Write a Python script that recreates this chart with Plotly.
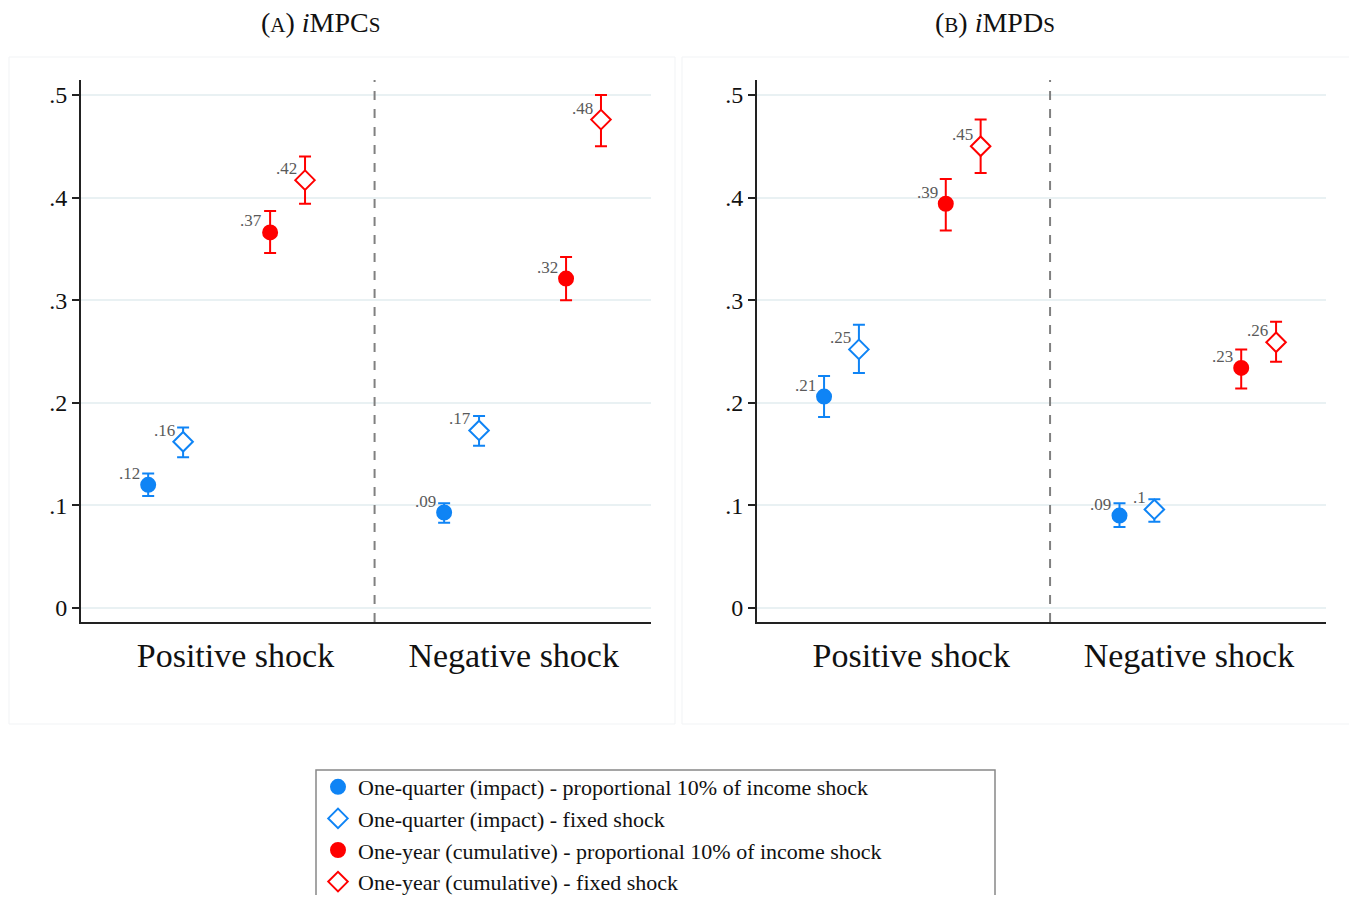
import plotly.graph_objects as go

# ---------------- data ----------------
categories = ["Positive shock", "Negative shock"]
series_names = [
    "One-quarter (impact) - proportional 10% of income shock",
    "One-quarter (impact) - fixed shock",
    "One-year (cumulative) - proportional 10% of income shock",
    "One-year (cumulative) - fixed shock",
]
y_ticks = [0, 0.1, 0.2, 0.3, 0.4, 0.5]
y_ticklabels = ["0", ".1", ".2", ".3", ".4", ".5"]

# Panel A: iMPCs  (values for [Positive, Negative])
mpc_q_prop = [0.120, 0.093]
mpc_q_prop_lo = [0.109, 0.083]
mpc_q_prop_hi = [0.131, 0.102]
mpc_q_fixed = [0.162, 0.173]
mpc_q_fixed_lo = [0.147, 0.158]
mpc_q_fixed_hi = [0.176, 0.187]
mpc_y_prop = [0.366, 0.321]
mpc_y_prop_lo = [0.346, 0.300]
mpc_y_prop_hi = [0.387, 0.342]
mpc_y_fixed = [0.417, 0.476]
mpc_y_fixed_lo = [0.394, 0.450]
mpc_y_fixed_hi = [0.440, 0.500]

# Panel B: iMPDs
mpd_q_prop = [0.206, 0.090]
mpd_q_prop_lo = [0.186, 0.079]
mpd_q_prop_hi = [0.226, 0.102]
mpd_q_fixed = [0.252, 0.096]
mpd_q_fixed_lo = [0.229, 0.084]
mpd_q_fixed_hi = [0.276, 0.106]
mpd_y_prop = [0.394, 0.234]
mpd_y_prop_lo = [0.368, 0.214]
mpd_y_prop_hi = [0.418, 0.252]
mpd_y_fixed = [0.450, 0.259]
mpd_y_fixed_lo = [0.424, 0.240]
mpd_y_fixed_hi = [0.476, 0.279]

# ---------------- style ----------------
BLUE = "#0f84f5"
RED = "#ff0000"
FONT = "Liberation Serif"
W, H = 1357, 903
OX, OY = 8, 8                      # page body margin
FW, FH = W - 2 * OX, H - 2 * OY    # figure size (fits the window exactly)


def px(x):
    return (x - OX) / FW


def py(y):
    return 1 - (y - OY) / FH


group_pos = [1, 2]
offsets = [-0.265, -0.147, 0.147, 0.265]
styles = [
    dict(color=BLUE, symbol="circle", fill=BLUE),
    dict(color=BLUE, symbol="diamond", fill="white"),
    dict(color=RED, symbol="circle", fill=RED),
    dict(color=RED, symbol="diamond", fill="white"),
]


def fmt(v):
    s = f"{v:.2f}".rstrip("0").rstrip(".")
    if s.startswith("0."):
        s = s[1:]
    return s if s else "0"


panels = [
    dict(
        vals=[mpc_q_prop, mpc_q_fixed, mpc_y_prop, mpc_y_fixed],
        lo=[mpc_q_prop_lo, mpc_q_fixed_lo, mpc_y_prop_lo, mpc_y_fixed_lo],
        hi=[mpc_q_prop_hi, mpc_q_fixed_hi, mpc_y_prop_hi, mpc_y_fixed_hi],
        xa="x", ya="y",
    ),
    dict(
        vals=[mpd_q_prop, mpd_q_fixed, mpd_y_prop, mpd_y_fixed],
        lo=[mpd_q_prop_lo, mpd_q_fixed_lo, mpd_y_prop_lo, mpd_y_fixed_lo],
        hi=[mpd_q_prop_hi, mpd_q_fixed_hi, mpd_y_prop_hi, mpd_y_fixed_hi],
        xa="x2", ya="y2",
    ),
]

fig = go.Figure()

for pi, p in enumerate(panels):
    for si in range(4):
        st = styles[si]
        v = p["vals"][si]
        xs = [g + offsets[si] for g in group_pos]
        fig.add_trace(go.Scatter(
            x=xs, y=v, xaxis=p["xa"], yaxis=p["ya"],
            mode="markers",
            name=series_names[si],
            showlegend=(pi == 0),
            marker=dict(symbol=st["symbol"], size=14 if st["symbol"] == "circle" else 15,
                        color=st["fill"], line=dict(color=st["color"], width=2)),
            error_y=dict(type="data", symmetric=False,
                         array=[h - a for h, a in zip(p["hi"][si], v)],
                         arrayminus=[a - l for l, a in zip(p["lo"][si], v)],
                         color=st["color"], thickness=2, width=6),
            hoverinfo="skip",
        ))
        for xv, yv in zip(xs, v):
            fig.add_annotation(
                x=xv, y=yv, xref=p["xa"], yref=p["ya"], text=fmt(yv),
                showarrow=False, xanchor="right", yanchor="bottom",
                xshift=-6, yshift=0,
                font=dict(family=FONT, size=17, color="#5a5a5a"),
            )

x_range = [0.508, 2.434]
y_range = [-0.0137, 0.5146]
ydom = [py(622), py(80)]

axis_common_x = dict(
    range=x_range, tickvals=[1.03, 1.97], ticktext=categories,
    showgrid=False, zeroline=False, showline=True, linecolor="#222222", linewidth=2,
    ticks="", tickfont=dict(family=FONT, size=34, color="#111111"),
    ticklabelstandoff=2, fixedrange=True, automargin=False,
)
axis_common_y = dict(
    range=y_range, tickvals=y_ticks, ticktext=y_ticklabels,
    showgrid=True, gridcolor="#e9f1f3", gridwidth=2, zeroline=False,
    showline=True, linecolor="#222222", linewidth=2,
    ticks="outside", ticklen=7, tickwidth=1.5, tickcolor="#222222",
    tickfont=dict(family=FONT, size=24, color="#111111"), fixedrange=True,
    automargin=False,
)

fig.update_layout(
    width=FW, height=FH,
    margin=dict(l=0, r=0, t=0, b=0, autoexpand=False),
    paper_bgcolor="white", plot_bgcolor="white",
    xaxis=dict(domain=[px(81), px(651)], anchor="y", **axis_common_x),
    yaxis=dict(domain=ydom, anchor="x", **axis_common_y),
    xaxis2=dict(domain=[px(757), px(1326)], anchor="y2", **axis_common_x),
    yaxis2=dict(domain=ydom, anchor="x2", **axis_common_y),
    legend=dict(
        xref="container", yref="container",
        x=px(318), y=py(766), xanchor="left", yanchor="top",
        borderwidth=0, bgcolor="rgba(0,0,0,0)",
        font=dict(family=FONT, size=22, color="#111111"),
        itemwidth=30, tracegroupgap=0, maxheight=300,
    ),
    showlegend=True,
)

# legend frame
fig.add_shape(type="rect", xref="paper", yref="paper",
              x0=px(316), x1=px(995), y0=py(920), y1=py(770),
              line=dict(color="#888888", width=1.5), fillcolor="rgba(0,0,0,0)",
              layer="below")

# faint panel frames
for x0, x1 in [(7, 675), (682, 1350)]:
    fig.add_shape(type="rect", xref="paper", yref="paper",
                  x0=px(max(x0, 9)), x1=px(x1), y0=py(724), y1=py(57),
                  line=dict(color="#f1f3f5", width=1), fillcolor="rgba(0,0,0,0)",
                  layer="below")

# dashed separators
for xa in ["x", "x2"]:
    fig.add_shape(type="line", xref=xa, yref=xa.replace("x", "y") + " domain",
                  x0=1.5, x1=1.5, y0=0, y1=1,
                  line=dict(color="#808080", width=2, dash="dash"))

# panel titles
titles = [
    ("(<span style='font-size:21px'>A</span>) <i>i</i>MPC<span style='font-size:21px'>S</span>", 320),
    ("(<span style='font-size:21px'>B</span>) <i>i</i>MPD<span style='font-size:21px'>S</span>", 995),
]
for t, xc in titles:
    fig.add_annotation(text=t, x=px(xc), y=1, xref="paper", yref="paper",
                       xanchor="center", yanchor="top", showarrow=False,
                       borderpad=0, yshift=2,
                       font=dict(family=FONT, size=28, color="#111111"))

fig.write_html("out.html")
